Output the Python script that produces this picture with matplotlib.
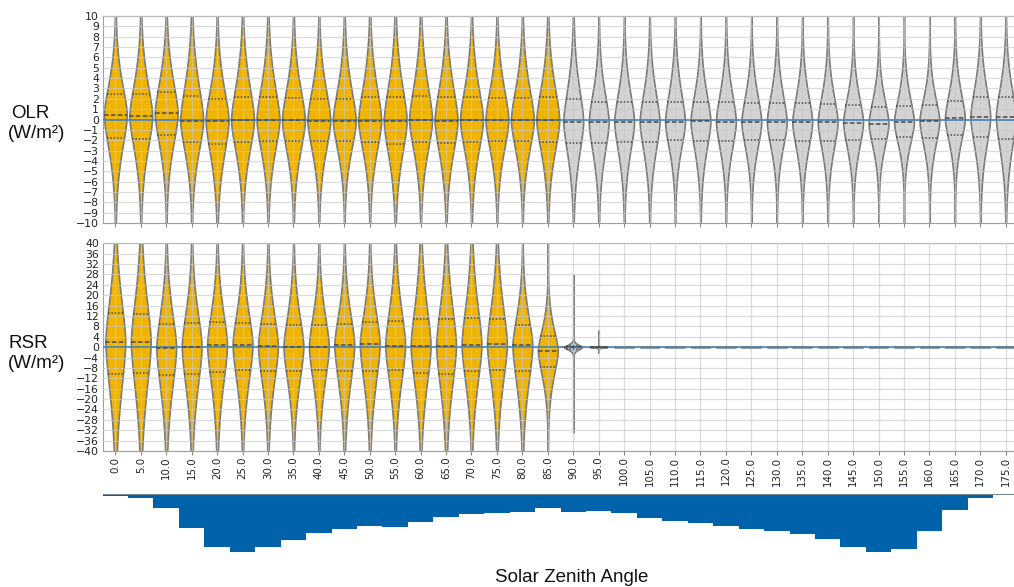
import numpy as np
import matplotlib.pyplot as plt

# solar zenith angle bins
angle_labels = ["0.0", "5.0", "10.0", "15.0", "20.0", "25.0", "30.0", "35.0", "40.0",
                "45.0", "50.0", "55.0", "60.0", "65.0", "70.0", "75.0", "80.0", "85.0",
                "90.0", "95.0", "100.0", "105.0", "110.0", "115.0", "120.0", "125.0",
                "130.0", "135.0", "140.0", "145.0", "150.0", "155.0", "160.0", "165.0",
                "170.0", "175.0"]

# OLR error distribution per bin (W/m2): median and quartiles
olr_med = [0.45, 0.32, 0.6, -0.1, -0.1, -0.06, -0.03, -0.06, -0.1,
           -0.13, -0.1, -0.13, -0.06, -0.1, -0.06, -0.06, -0.06, -0.06,
           -0.2, -0.23, -0.23, -0.23, -0.23, -0.16, -0.2, -0.26, -0.26,
           -0.26, -0.26, -0.29, -0.39, -0.26, -0.13, 0.1, 0.26, 0.26]
olr_q3 = [2.45, 2.45, 2.7, 2.25, 2.0, 2.2, 2.2, 2.05, 2.0,
          2.0, 2.13, 2.2, 2.26, 2.13, 2.13, 2.06, 2.06, 2.13,
          1.94, 1.7, 1.7, 1.74, 1.74, 1.68, 1.7, 1.55, 1.58,
          1.55, 1.52, 1.39, 1.19, 1.35, 1.39, 1.8, 2.16, 2.13]
olr_q1 = [-1.74, -1.84, -1.5, -2.16, -2.35, -2.13, -2.1, -2.1, -2.1,
          -2.06, -2.13, -2.35, -2.13, -2.26, -2.13, -2.06, -2.06, -2.13,
          -2.3, -2.26, -2.2, -2.2, -2.0, -2.06, -2.03, -2.0, -1.94,
          -2.03, -2.03, -1.97, -1.9, -1.7, -1.74, -1.45, -1.68, -1.84]
olr_min = [-14] * 36
olr_max = [14] * 36

# RSR error distribution per bin (W/m2)
rsr_med = [2.1, 1.9, -0.2, 0.2, 0.85, 0.85, 0.3, 0.1, 0.2,
           0.85, 1.1, 0.6, 0.3, 0.5, 0.7, 1.1, 0.7, -1.3,
           0.0, 0.0, 0.0, 0.0, 0.0, 0.0, 0.0, 0.0, 0.0,
           0.0, 0.0, 0.0, 0.0, 0.0, 0.0, 0.0, 0.0, 0.0]
rsr_q3 = [13.0, 12.9, 8.9, 9.2, 9.6, 9.3, 8.9, 8.5, 8.5,
          9.0, 9.6, 10.1, 10.9, 11.0, 11.1, 11.0, 8.4, 4.3,
          0.6, 0.1, 0.0, 0.0, 0.0, 0.0, 0.0, 0.0, 0.0,
          0.0, 0.0, 0.0, 0.0, 0.0, 0.0, 0.0, 0.0, 0.0]
rsr_q1 = [-10.3, -10.1, -10.7, -10.3, -9.4, -8.8, -9.2, -9.0, -8.8,
          -9.0, -9.0, -8.9, -9.9, -10.2, -9.3, -8.8, -9.3, -7.8,
          -0.6, -0.1, 0.0, 0.0, 0.0, 0.0, 0.0, 0.0, 0.0,
          0.0, 0.0, 0.0, 0.0, 0.0, 0.0, 0.0, 0.0, 0.0]
rsr_min = [-60] * 18 + [-32.8, -2.1] + [0] * 16
rsr_max = [60] * 18 + [27.8, 6.4] + [0] * 16

# number of samples per bin (relative)
sza_count = [0.15, 0.37, 1.37, 3.37, 5.27, 5.77, 5.33, 4.6, 3.93,
             3.5, 3.17, 3.27, 2.83, 2.33, 2.0, 1.87, 1.77, 1.37,
             1.77, 1.7, 1.93, 2.37, 2.67, 2.93, 3.23, 3.47, 3.73,
             3.97, 4.47, 5.27, 5.77, 5.53, 3.7, 1.6, 0.43, 0.1]

YELLOW = "#f0b400"
GREY = "#d3d3d3"
NIGHT = "#b4c6dc"
EDGE = "#7a7a7a"
INNER = "#4a4a4a"
ZERO = "#4682b4"


def violin(ax, x, med, q1, q3, lo, hi, width, face):
    if q3 - q1 <= 0 and hi - lo <= 0:
        # all values zero: collapses to a flat line
        ax.plot([x - width / 2, x + width / 2], [med, med], color="#6b7d90", lw=1.8, zorder=3)
        return
    y = np.linspace(lo, hi, 1500)
    s_up = max(q3 - med, 1e-3) / 0.674
    s_dn = max(med - q1, 1e-3) / 0.674
    z = np.where(y >= med, (y - med) / s_up, (y - med) / s_dn)
    half = 0.5 * width * np.exp(-0.5 * np.abs(z) ** 1.6)
    ax.fill_betweenx(y, x - half, x + half, facecolor=face, edgecolor=EDGE, lw=1.2, zorder=2)
    for val, ls in ((q1, (0, (1, 1.2))), (med, (0, (3, 1.5))), (q3, (0, (1, 1.2)))):
        hw = np.interp(val, y, half)
        ax.plot([x - hw, x + hw], [val, val], color=INNER, ls=ls, lw=1.1, zorder=3)


fig = plt.figure(figsize=(10.14, 5.87), dpi=100)
ax1 = fig.add_axes([0.1012, 0.6201, 0.9032, 0.3526])
ax2 = fig.add_axes([0.1012, 0.2317, 0.9032, 0.3538])
ax3 = fig.add_axes([0.1012, 0.0562, 0.9032, 0.1022])

xs = np.arange(len(angle_labels))
for i in xs:
    day = i < 18
    violin(ax1, i, olr_med[i], olr_q1[i], olr_q3[i], olr_min[i], olr_max[i],
           0.9 if day else 0.78, YELLOW if day else GREY)
    violin(ax2, i, rsr_med[i], rsr_q1[i], rsr_q3[i], rsr_min[i], rsr_max[i],
           0.78 if day else 0.7, YELLOW if day else NIGHT)

for ax, lim, step in ((ax1, 10, 1), (ax2, 40, 4)):
    ax.axhline(0, color=ZERO, lw=1.2, zorder=2.8)
    ax.set_xlim(-0.5, 35.5)
    ax.set_ylim(-lim, lim)
    ax.set_yticks(np.arange(-lim, lim + 1, step))
    ax.set_xticks(xs)
    ax.set_axisbelow(False)
    ax.grid(True, color="#c8c8c8", lw=0.9, alpha=0.65)
    ax.tick_params(axis="y", length=0, pad=2.5, labelsize=7.8, labelcolor="#222222")
    ax.tick_params(axis="x", length=3, pad=1, color="#888888", labelsize=7.4,
                   labelcolor="#222222")
    for sp in ax.spines.values():
        sp.set_color("#a0a0a0")

ax1.set_xticklabels([])
ax2.set_xticklabels(angle_labels, rotation=90)

ax3.bar(xs, [-c for c in sza_count], width=1.0, color="#0062aa", linewidth=0)
ax3.axhline(0, color="#8c8c8c", lw=1.2)
ax3.set_xlim(-0.5, 35.5)
ax3.set_ylim(-6.0, 0)
ax3.axis("off")

lab = dict(family="Liberation Sans", fontsize=13.5, color="#111111", ha="left", va="center")
fig.text(11 / 1014, 1 - 114 / 587, "OLR", **lab)
fig.text(8 / 1014, 1 - 134 / 587, "(W/m²)", **lab)
fig.text(9 / 1014, 1 - 343 / 587, "RSR", **lab)
fig.text(8 / 1014, 1 - 363 / 587, "(W/m²)", **lab)
fig.text(572 / 1014, 1 - 577 / 587, "Solar Zenith Angle", family="Liberation Sans",
         fontsize=13.5, color="#111111", ha="center", va="center")

fig.savefig("out.png", dpi=100)
